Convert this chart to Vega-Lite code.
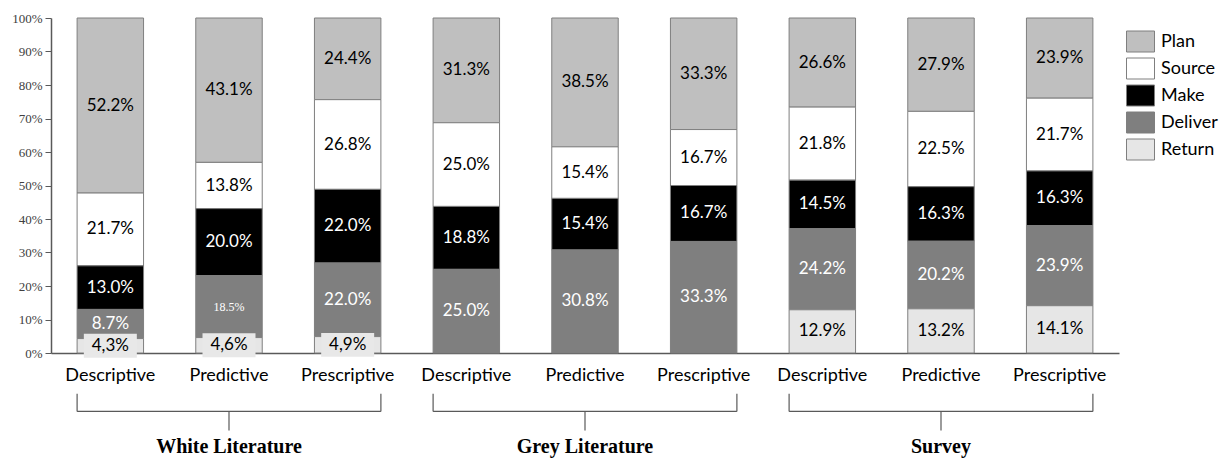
{
  "$schema": "https://vega.github.io/schema/vega-lite/v6.json",
  "background": "white",
  "padding": {"left": 11, "top": 12, "right": 5, "bottom": 0},
  "bounds": "flush",
  "spacing": 40,
  "config": {
    "view": {"stroke": null},
    "axisY": {"labelOverlap": false, "labelBound": false},
    "legend": {
      "title": null,
      "symbolType": "M-1,-0.75H1V0.75H-1Z",
      "symbolSize": 784,
      "symbolStrokeColor": "#7f7f7f",
      "symbolStrokeWidth": 1,
      "rowPadding": 0,
      "labelFont": "Lato",
      "labelFontSize": 18,
      "labelColor": "#000000",
      "labelOffset": 6,
      "offset": -2,
      "padding": 9
    }
  },
  "datasets": {
    "bars": [
      {"group": "White Literature", "type": "Descriptive", "series": "Plan", "value": 52.2, "label": "52.2%"},
      {"group": "White Literature", "type": "Descriptive", "series": "Source", "value": 21.7, "label": "21.7%"},
      {"group": "White Literature", "type": "Descriptive", "series": "Make", "value": 13.0, "label": "13.0%"},
      {"group": "White Literature", "type": "Descriptive", "series": "Deliver", "value": 8.7, "label": "8.7%"},
      {"group": "White Literature", "type": "Descriptive", "series": "Return", "value": 4.3, "label": "4,3%"},
      {"group": "White Literature", "type": "Predictive", "series": "Plan", "value": 43.1, "label": "43.1%"},
      {"group": "White Literature", "type": "Predictive", "series": "Source", "value": 13.8, "label": "13.8%"},
      {"group": "White Literature", "type": "Predictive", "series": "Make", "value": 20.0, "label": "20.0%"},
      {"group": "White Literature", "type": "Predictive", "series": "Deliver", "value": 18.5, "label": "18.5%"},
      {"group": "White Literature", "type": "Predictive", "series": "Return", "value": 4.6, "label": "4,6%"},
      {"group": "White Literature", "type": "Prescriptive", "series": "Plan", "value": 24.4, "label": "24.4%"},
      {"group": "White Literature", "type": "Prescriptive", "series": "Source", "value": 26.8, "label": "26.8%"},
      {"group": "White Literature", "type": "Prescriptive", "series": "Make", "value": 22.0, "label": "22.0%"},
      {"group": "White Literature", "type": "Prescriptive", "series": "Deliver", "value": 22.0, "label": "22.0%"},
      {"group": "White Literature", "type": "Prescriptive", "series": "Return", "value": 4.9, "label": "4,9%"},
      {"group": "Grey Literature", "type": "Descriptive", "series": "Plan", "value": 31.3, "label": "31.3%"},
      {"group": "Grey Literature", "type": "Descriptive", "series": "Source", "value": 25.0, "label": "25.0%"},
      {"group": "Grey Literature", "type": "Descriptive", "series": "Make", "value": 18.8, "label": "18.8%"},
      {"group": "Grey Literature", "type": "Descriptive", "series": "Deliver", "value": 25.0, "label": "25.0%"},
      {"group": "Grey Literature", "type": "Predictive", "series": "Plan", "value": 38.5, "label": "38.5%"},
      {"group": "Grey Literature", "type": "Predictive", "series": "Source", "value": 15.4, "label": "15.4%"},
      {"group": "Grey Literature", "type": "Predictive", "series": "Make", "value": 15.4, "label": "15.4%"},
      {"group": "Grey Literature", "type": "Predictive", "series": "Deliver", "value": 30.8, "label": "30.8%"},
      {"group": "Grey Literature", "type": "Prescriptive", "series": "Plan", "value": 33.3, "label": "33.3%"},
      {"group": "Grey Literature", "type": "Prescriptive", "series": "Source", "value": 16.7, "label": "16.7%"},
      {"group": "Grey Literature", "type": "Prescriptive", "series": "Make", "value": 16.7, "label": "16.7%"},
      {"group": "Grey Literature", "type": "Prescriptive", "series": "Deliver", "value": 33.3, "label": "33.3%"},
      {"group": "Survey", "type": "Descriptive", "series": "Plan", "value": 26.6, "label": "26.6%"},
      {"group": "Survey", "type": "Descriptive", "series": "Source", "value": 21.8, "label": "21.8%"},
      {"group": "Survey", "type": "Descriptive", "series": "Make", "value": 14.5, "label": "14.5%"},
      {"group": "Survey", "type": "Descriptive", "series": "Deliver", "value": 24.2, "label": "24.2%"},
      {"group": "Survey", "type": "Descriptive", "series": "Return", "value": 12.9, "label": "12.9%"},
      {"group": "Survey", "type": "Predictive", "series": "Plan", "value": 27.9, "label": "27.9%"},
      {"group": "Survey", "type": "Predictive", "series": "Source", "value": 22.5, "label": "22.5%"},
      {"group": "Survey", "type": "Predictive", "series": "Make", "value": 16.3, "label": "16.3%"},
      {"group": "Survey", "type": "Predictive", "series": "Deliver", "value": 20.2, "label": "20.2%"},
      {"group": "Survey", "type": "Predictive", "series": "Return", "value": 13.2, "label": "13.2%"},
      {"group": "Survey", "type": "Prescriptive", "series": "Plan", "value": 23.9, "label": "23.9%"},
      {"group": "Survey", "type": "Prescriptive", "series": "Source", "value": 21.7, "label": "21.7%"},
      {"group": "Survey", "type": "Prescriptive", "series": "Make", "value": 16.3, "label": "16.3%"},
      {"group": "Survey", "type": "Prescriptive", "series": "Deliver", "value": 23.9, "label": "23.9%"},
      {"group": "Survey", "type": "Prescriptive", "series": "Return", "value": 14.1, "label": "14.1%"}
    ],
    "braces": [
      {"group": "White Literature", "first": "White Literature|Descriptive", "mid": "White Literature|Predictive", "last": "White Literature|Prescriptive"},
      {"group": "Grey Literature", "first": "Grey Literature|Descriptive", "mid": "Grey Literature|Predictive", "last": "Grey Literature|Prescriptive"},
      {"group": "Survey", "first": "Survey|Descriptive", "mid": "Survey|Predictive", "last": "Survey|Prescriptive"}
    ]
  },
  "vconcat": [
    {
      "width": 1068,
      "height": 335,
      "data": {"name": "bars"},
      "transform": [
        {"calculate": "datum.group + '|' + datum.type", "as": "bar"},
        {"calculate": "indexof(['Return','Deliver','Make','Source','Plan'], datum.series)", "as": "ord"},
        {"stack": "value", "groupby": ["bar"], "sort": [{"field": "ord", "order": "ascending"}], "offset": "normalize", "as": ["y0", "y1"]},
        {"calculate": "(datum.y0 + datum.y1) / 2", "as": "ymid"}
      ],
      "encoding": {
        "x": {
          "field": "bar",
          "type": "nominal",
          "scale": {
            "type": "band",
            "domain": ["White Literature|Descriptive", "White Literature|Predictive", "White Literature|Prescriptive", "Grey Literature|Descriptive", "Grey Literature|Predictive", "Grey Literature|Prescriptive", "Survey|Descriptive", "Survey|Predictive", "Survey|Prescriptive"],
            "paddingInner": 0.44,
            "paddingOuter": 0.22
          },
          "axis": {
            "title": null,
            "labelExpr": "split(datum.value, '|')[1]",
            "labelAngle": 0,
            "labelFont": "Lato",
            "labelFontSize": 18,
            "labelColor": "#000000",
            "labelPadding": 13,
            "ticks": false,
            "tickSize": 0,
            "domainColor": "#595959",
            "domainWidth": 1.5,
            "grid": false
          }
        }
      },
      "layer": [
        {
          "mark": {"type": "bar", "stroke": "#7f7f7f", "strokeWidth": 1},
          "encoding": {
            "y": {
              "field": "y0",
              "type": "quantitative",
              "scale": {"domain": [0, 1], "nice": false},
              "axis": {
                "title": null,
                "format": ".0%",
                "values": [0, 0.1, 0.2, 0.3, 0.4, 0.5, 0.6, 0.7, 0.8, 0.9, 1],
                "labelOverlap": false,
                "labelFont": "Liberation Serif",
                "labelFontSize": 13,
                "labelColor": "#404040",
                "labelPadding": 3,
                "tickSize": 6,
                "tickColor": "#595959",
                "domainColor": "#595959",
                "domainWidth": 1.5,
                "grid": false
              }
            },
            "y2": {"field": "y1"},
            "color": {
              "field": "series",
              "type": "nominal",
              "scale": {
                "domain": ["Plan", "Source", "Make", "Deliver", "Return"],
                "range": ["#bfbfbf", "#ffffff", "#000000", "#7f7f7f", "#e6e6e6"]
              },
              "legend": {}
            }
          }
        },
        {
          "transform": [{"filter": "datum.group === 'White Literature' && datum.series === 'Return'"}],
          "mark": {"type": "point", "shape": "M-1,-0.45H1V0.45H-1Z", "filled": true, "fill": "#e8e8e8", "opacity": 1, "size": 2809, "strokeWidth": 0},
          "encoding": {
            "y": {"field": "ymid", "type": "quantitative", "axis": {"values": [0, 0.1, 0.2, 0.3, 0.4, 0.5, 0.6, 0.7, 0.8, 0.9, 1], "labelOverlap": false}}
          }
        },
        {
          "transform": [{"filter": "datum.label !== '18.5%'"}],
          "mark": {"type": "text", "font": "Lato", "fontSize": 17, "baseline": "middle"},
          "encoding": {
            "y": {"field": "ymid", "type": "quantitative", "axis": {"values": [0, 0.1, 0.2, 0.3, 0.4, 0.5, 0.6, 0.7, 0.8, 0.9, 1], "labelOverlap": false}},
            "text": {"field": "label"},
            "color": {
              "condition": {"test": "datum.series === 'Make' || datum.series === 'Deliver'", "value": "#ffffff"},
              "value": "#000000"
            }
          }
        },
        {
          "transform": [{"filter": "datum.label === '18.5%'"}],
          "mark": {"type": "text", "font": "Liberation Serif", "fontSize": 12, "baseline": "middle", "color": "#ffffff"},
          "encoding": {
            "y": {"field": "ymid", "type": "quantitative", "axis": {"values": [0, 0.1, 0.2, 0.3, 0.4, 0.5, 0.6, 0.7, 0.8, 0.9, 1], "labelOverlap": false}},
            "text": {"field": "label"}
          }
        }
      ]
    },
    {
      "width": 1068,
      "height": 64,
      "data": {"name": "braces"},
      "layer": [
        {
          "mark": {"type": "rule", "color": "#595959", "strokeWidth": 1.2},
          "encoding": {
            "x": {
              "field": "first", "type": "nominal", "bandPosition": 0,
              "scale": {
                "type": "band",
                "domain": ["White Literature|Descriptive", "White Literature|Predictive", "White Literature|Prescriptive", "Grey Literature|Descriptive", "Grey Literature|Predictive", "Grey Literature|Prescriptive", "Survey|Descriptive", "Survey|Predictive", "Survey|Prescriptive"],
                "paddingInner": 0.44,
                "paddingOuter": 0.22
              },
              "axis": null
            },
            "x2": {"field": "last", "bandPosition": 1},
            "y": {"datum": 1.15, "type": "quantitative", "scale": {"domain": [0, 4], "reverse": true, "nice": false}, "axis": null}
          }
        },
        {
          "mark": {"type": "rule", "color": "#595959", "strokeWidth": 1.2},
          "encoding": {
            "x": {"field": "first", "type": "nominal", "bandPosition": 0},
            "y": {"datum": 0.05, "type": "quantitative"},
            "y2": {"datum": 1.15}
          }
        },
        {
          "mark": {"type": "rule", "color": "#595959", "strokeWidth": 1.2},
          "encoding": {
            "x": {"field": "last", "type": "nominal", "bandPosition": 1},
            "y": {"datum": 0.05, "type": "quantitative"},
            "y2": {"datum": 1.15}
          }
        },
        {
          "mark": {"type": "rule", "color": "#595959", "strokeWidth": 1.2},
          "encoding": {
            "x": {"field": "mid", "type": "nominal", "bandPosition": 0.5},
            "y": {"datum": 1.15, "type": "quantitative"},
            "y2": {"datum": 2.35}
          }
        },
        {
          "mark": {"type": "text", "font": "Liberation Serif", "fontSize": 20, "fontWeight": "bold", "baseline": "middle", "color": "#000000"},
          "encoding": {
            "x": {"field": "mid", "type": "nominal", "bandPosition": 0.5},
            "y": {"datum": 3.4, "type": "quantitative"},
            "text": {"field": "group"}
          }
        }
      ]
    }
  ]
}
